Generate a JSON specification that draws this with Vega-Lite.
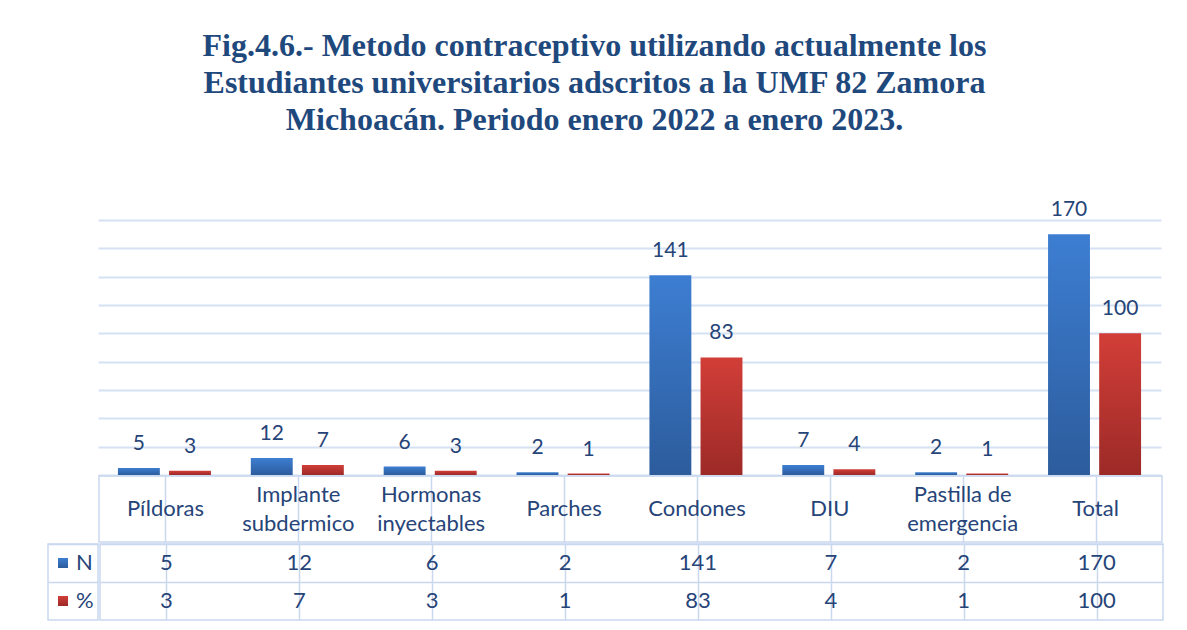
{
  "$schema": "https://vega.github.io/schema/vega-lite/v6.json",
  "background": "white",
  "padding": {"left": 47, "top": 30, "right": 27, "bottom": 14},
  "title": {
    "text": ["Fig.4.6.- Metodo contraceptivo utilizando actualmente los", "Estudiantes universitarios adscritos a la UMF 82 Zamora", "Michoacán. Periodo enero 2022 a enero 2023."],
    "font": "Liberation Serif",
    "fontSize": 32,
    "fontWeight": "bold",
    "color": "#1F497D",
    "lineHeight": 37,
    "anchor": "middle",
    "dx": -11,
    "offset": 62
  },
  "datasets": {
    "d": [
      {"metodo": "Píldoras", "serie": "N", "valor": 5},
      {"metodo": "Píldoras", "serie": "%", "valor": 3},
      {"metodo": "Implante\nsubdermico", "serie": "N", "valor": 12},
      {"metodo": "Implante\nsubdermico", "serie": "%", "valor": 7},
      {"metodo": "Hormonas\ninyectables", "serie": "N", "valor": 6},
      {"metodo": "Hormonas\ninyectables", "serie": "%", "valor": 3},
      {"metodo": "Parches", "serie": "N", "valor": 2},
      {"metodo": "Parches", "serie": "%", "valor": 1},
      {"metodo": "Condones", "serie": "N", "valor": 141},
      {"metodo": "Condones", "serie": "%", "valor": 83},
      {"metodo": "DIU", "serie": "N", "valor": 7},
      {"metodo": "DIU", "serie": "%", "valor": 4},
      {"metodo": "Pastilla de\nemergencia", "serie": "N", "valor": 2},
      {"metodo": "Pastilla de\nemergencia", "serie": "%", "valor": 1},
      {"metodo": "Total", "serie": "N", "valor": 170},
      {"metodo": "Total", "serie": "%", "valor": 100}
    ]
  },
  "spacing": 0,
  "resolve": {"scale": {"x": "independent", "y": "independent"}},
  "vconcat": [
    {
      "spacing": 0,
      "resolve": {"scale": {"x": "independent", "y": "independent"}},
      "hconcat": [
        {
          "width": 50,
          "height": 255,
          "data": {"values": [{"a": 1}]},
          "mark": {"type": "text", "text": ""},
          "encoding": {}
        },
        {
          "width": 1063,
          "height": 255,
          "data": {"name": "d"},
          "encoding": {
            "x": {
              "field": "metodo",
              "type": "nominal",
              "scale": {"domain": ["Píldoras", "Implante\nsubdermico", "Hormonas\ninyectables", "Parches", "Condones", "DIU", "Pastilla de\nemergencia", "Total"], "paddingInner": 0.3, "paddingOuter": 0.15},
              "axis": null
            },
            "xOffset": {
              "field": "serie",
              "type": "nominal",
              "scale": {"domain": ["N", "%"], "paddingInner": 0.18, "paddingOuter": 0}
            },
            "y": {
              "field": "valor",
              "type": "quantitative",
              "scale": {"domain": [0, 180], "nice": false},
              "axis": {"values": [0, 20, 40, 60, 80, 100, 120, 140, 160, 180], "grid": true, "gridColor": "#D6E1F3", "gridWidth": 2, "labels": false, "ticks": false, "domain": false, "title": null}
            }
          },
          "layer": [
            {
              "transform": [{"filter": "datum.serie === 'N'"}],
              "mark": {"type": "bar", "color": {"gradient": "linear", "x1": 0, "y1": 0, "x2": 0, "y2": 1, "stops": [{"offset": 0, "color": "#3D7ED2"}, {"offset": 1, "color": "#2C5C9C"}]}}
            },
            {
              "transform": [{"filter": "datum.serie === '%'"}],
              "mark": {"type": "bar", "color": {"gradient": "linear", "x1": 0, "y1": 0, "x2": 0, "y2": 1, "stops": [{"offset": 0, "color": "#D23E38"}, {"offset": 1, "color": "#9C2A27"}]}}
            },
            {
              "mark": {"type": "text", "baseline": "middle", "dy": -24, "fontSize": 21, "font": "Lato", "color": "#264478"},
              "encoding": {"text": {"field": "valor", "type": "quantitative"}}
            }
          ]
        }
      ]
    },
    {
      "spacing": 0,
      "resolve": {"scale": {"x": "independent", "y": "independent"}},
      "hconcat": [
        {
          "width": 50,
          "height": 66,
          "data": {"values": [{"a": 1}]},
          "mark": {"type": "text", "text": ""},
          "encoding": {}
        },
        {
          "width": 1063,
          "height": 66,
          "view": {"stroke": "#C9D8EF", "strokeWidth": 1.5},
          "data": {"name": "d"},
          "transform": [{"filter": "datum.serie === 'N'"}],
          "mark": {"type": "text", "fontSize": 22, "font": "Lato", "color": "#264478", "lineBreak": "\n", "lineHeight": 29, "baseline": "middle", "dy": {"expr": "indexof(datum.metodo, '\\n') >= 0 ? -14 : 0"}},
          "encoding": {
            "x": {
              "field": "metodo",
              "type": "nominal",
              "scale": {"domain": ["Píldoras", "Implante\nsubdermico", "Hormonas\ninyectables", "Parches", "Condones", "DIU", "Pastilla de\nemergencia", "Total"], "paddingInner": 0, "paddingOuter": 0},
              "axis": {"grid": true, "bandPosition": 0, "gridColor": "#C9D8EF", "gridWidth": 1.5, "labels": false, "ticks": false, "domain": false, "title": null}
            },
            "text": {"field": "metodo", "type": "nominal"}
          }
        }
      ]
    },
    {
      "spacing": 0,
      "resolve": {"scale": {"x": "independent", "y": "independent"}},
      "hconcat": [
        {
          "width": 50,
          "height": 76,
          "view": {"stroke": "#C9D8EF", "strokeWidth": 1.5},
          "data": {"name": "d"},
          "transform": [{"filter": "datum.metodo === 'Total'"}],
          "encoding": {
            "y": {
              "field": "serie",
              "type": "nominal",
              "scale": {"type": "band", "domain": ["N", "%"], "paddingInner": 0, "paddingOuter": 0},
              "axis": {"grid": true, "bandPosition": 0, "gridColor": "#C9D8EF", "gridWidth": 1.5, "labels": false, "ticks": false, "domain": false, "title": null}
            }
          },
          "layer": [
            {
              "transform": [{"filter": "datum.serie === 'N'"}],
              "mark": {"type": "square", "size": 100, "filled": true, "opacity": 1, "xOffset": -10, "color": {"gradient": "linear", "x1": 0, "y1": 0, "x2": 0, "y2": 1, "stops": [{"offset": 0, "color": "#3D7ED2"}, {"offset": 1, "color": "#2C5C9C"}]}}
            },
            {
              "transform": [{"filter": "datum.serie === '%'"}],
              "mark": {"type": "square", "size": 100, "filled": true, "opacity": 1, "xOffset": -10, "color": {"gradient": "linear", "x1": 0, "y1": 0, "x2": 0, "y2": 1, "stops": [{"offset": 0, "color": "#D23E38"}, {"offset": 1, "color": "#9C2A27"}]}}
            },
            {
              "mark": {"type": "text", "align": "left", "baseline": "middle", "dx": 3, "fontSize": 22, "font": "Lato", "color": "#264478"},
              "encoding": {"text": {"field": "serie", "type": "nominal"}}
            }
          ]
        },
        {
          "width": 1063,
          "height": 76,
          "view": {"stroke": "#C9D8EF", "strokeWidth": 1.5},
          "data": {"name": "d"},
          "mark": {"type": "text", "fontSize": 22, "font": "Lato", "color": "#264478", "baseline": "middle"},
          "encoding": {
            "x": {
              "field": "metodo",
              "type": "nominal",
              "scale": {"domain": ["Píldoras", "Implante\nsubdermico", "Hormonas\ninyectables", "Parches", "Condones", "DIU", "Pastilla de\nemergencia", "Total"], "paddingInner": 0, "paddingOuter": 0},
              "axis": {"grid": true, "bandPosition": 0, "gridColor": "#C9D8EF", "gridWidth": 1.5, "labels": false, "ticks": false, "domain": false, "title": null}
            },
            "y": {
              "field": "serie",
              "type": "nominal",
              "scale": {"type": "band", "domain": ["N", "%"], "paddingInner": 0, "paddingOuter": 0},
              "axis": {"grid": true, "bandPosition": 0, "gridColor": "#C9D8EF", "gridWidth": 1.5, "labels": false, "ticks": false, "domain": false, "title": null}
            },
            "text": {"field": "valor", "type": "quantitative"}
          }
        }
      ]
    }
  ],
  "config": {"view": {"stroke": null}, "font": "Lato"}
}
